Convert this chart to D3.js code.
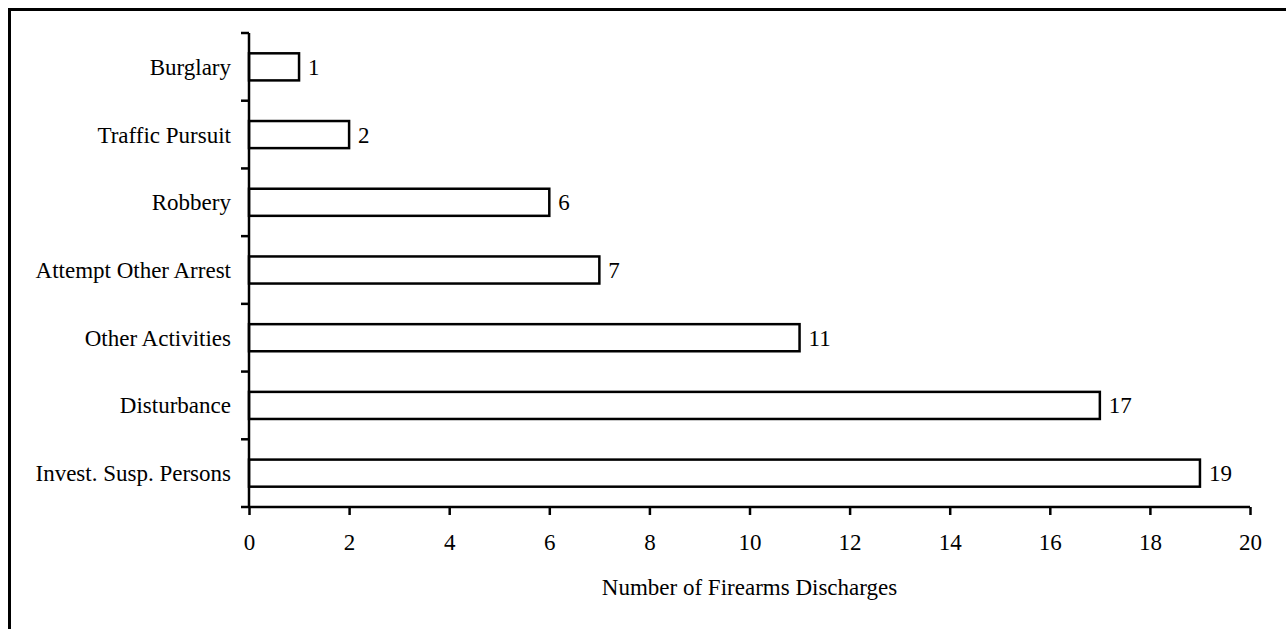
<!DOCTYPE html>
<html><head><meta charset="utf-8">
<script src="https://cdn.jsdelivr.net/npm/d3@7"></script>
<style>body{margin:0;background:#fff;} svg{display:block;font-family:"Liberation Serif","Times New Roman",serif;}</style>
</head><body>
<svg id="c" width="1286" height="629"></svg>
<script>
const categories = ["Burglary","Traffic Pursuit","Robbery","Attempt Other Arrest","Other Activities","Disturbance","Invest. Susp. Persons"];
const values = [1,2,6,7,11,17,19];
const xTicks = [0,2,4,6,8,10,12,14,16,18,20];
const xTitle = "Number of Firearms Discharges";

(function(){
const FS = 23;
const svg = d3.select("#c");
// frame
svg.append("rect").attr("x",9.5).attr("y",9.5).attr("width",1300).attr("height",700)
  .attr("fill","none").attr("stroke","#000").attr("stroke-width",3);

const pl = 249, pr = 1250, pt = 33, pb = 507;
const x = d3.scaleLinear().domain([0,20]).range([pl,pr]);
const y = d3.scaleBand().domain(categories).range([pt,pb]).paddingInner(0.6).paddingOuter(0.3);
const yb = d3.scaleBand().domain(categories).range([pt,pb]);

// bars
svg.selectAll("rect.bar").data(categories).enter().append("rect").attr("class","bar")
  .attr("x",x(0)).attr("y",d=>y(d)).attr("width",(d,i)=>x(values[i])-x(0)).attr("height",y.bandwidth())
  .attr("fill","#fff").attr("stroke","#000").attr("stroke-width",2.5);

// value labels
svg.selectAll("text.val").data(categories).enter().append("text").attr("class","val")
  .attr("x",(d,i)=>x(values[i])+9).attr("y",d=>y(d)+y.bandwidth()/2).attr("dy","0.35em")
  .attr("font-size",FS).text((d,i)=>values[i]);

// y axis line + ticks at band boundaries
svg.append("line").attr("x1",pl).attr("x2",pl).attr("y1",pt).attr("y2",pb).attr("stroke","#000").attr("stroke-width",2.5);
const bounds = categories.map(d=>yb(d)).concat([pb]);
svg.selectAll("line.yt").data(bounds).enter().append("line").attr("class","yt")
  .attr("x1",pl-8).attr("x2",pl).attr("y1",d=>d).attr("y2",d=>d).attr("stroke","#000").attr("stroke-width",2.5);
svg.selectAll("text.cat").data(categories).enter().append("text").attr("class","cat")
  .attr("x",231).attr("y",d=>yb(d)+yb.bandwidth()/2).attr("dy","0.35em").attr("text-anchor","end")
  .attr("font-size",FS).text(d=>d);

// x axis
const xAxis = d3.axisBottom(x).tickValues(xTicks).tickSize(8).tickPadding(19).tickFormat(d3.format("d"));
const gx = svg.append("g").attr("transform",`translate(0,${pb})`).call(xAxis);
gx.select(".domain").attr("stroke","#000").attr("stroke-width",2.5).attr("d",`M${pl},0H${pr}`);
gx.selectAll(".tick line").attr("stroke","#000").attr("stroke-width",2.5);
gx.selectAll(".tick text").attr("font-size",FS).attr("font-family","Liberation Serif").attr("fill","#000");

svg.append("text").attr("x",(pl+pr)/2).attr("y",587).attr("dy","0.35em").attr("text-anchor","middle")
  .attr("font-size",FS).text(xTitle);
})();
</script>
</body></html>
